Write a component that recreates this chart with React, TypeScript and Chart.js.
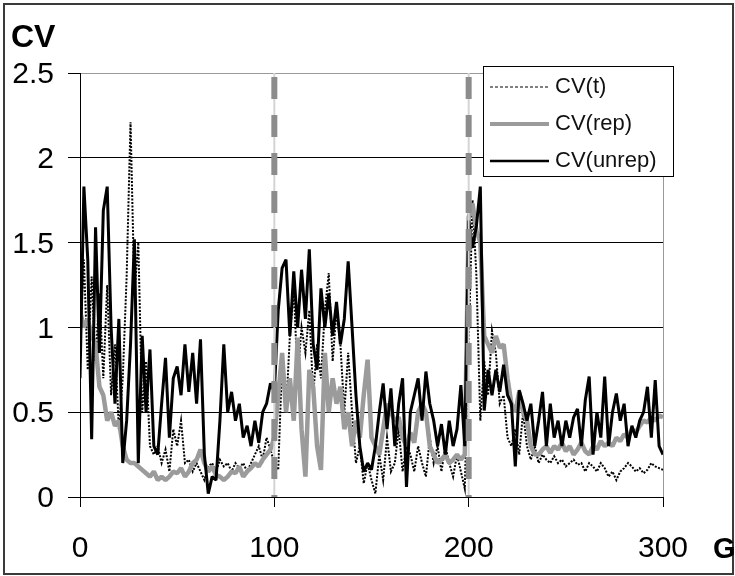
import React, { useEffect, useRef } from "react";
import { Chart, registerables } from "chart.js";

Chart.register(...registerables);

// Generation index (x), every 2 generations from 0 to 300
const generations: number[] = Array.from({ length: 151 }, (_, i) => i * 2);

// CV(t) — dotted black
const cvT: number[] = [
  0.9, 1.4, 0.75, 1.3, 0.8, 1.2, 0.7, 1.25, 0.6, 0.9,
  0.4, 0.7, 1.3, 2.21, 1.2, 1.5, 0.5, 0.8, 0.3, 0.25,
  0.3, 0.2, 0.28, 0.15, 0.4, 0.3, 0.45, 0.2, 0.22, 0.15,
  0.2, 0.15, 0.1, 0.18, 0.2, 0.15, 0.22, 0.18, 0.2, 0.15,
  0.2, 0.17, 0.2, 0.15, 0.2, 0.25, 0.3, 0.22, 0.35, 0.28,
  0.2, 0.16, 0.8, 0.5, 0.95, 1.22, 0.7, 1.0, 0.85, 1.1,
  0.6, 0.9, 0.7, 1.1, 1.32, 0.8, 1.1, 0.9, 0.5, 0.85,
  0.5, 0.2, 0.3, 0.08, 0.2, 0.1, 0.02, 0.25, 0.1, 0.35,
  0.15, 0.2, 0.4, 0.15, 0.3, 0.25, 0.15, 0.3, 0.2, 0.12,
  0.35, 0.2, 0.3, 0.15, 0.3, 0.2, 0.12, 0.25, 0.15, 0.05,
  0.9, 1.75, 1.3, 0.45, 0.8, 0.6, 0.98, 0.85, 0.55, 0.6,
  0.35, 0.3, 0.4, 0.25, 0.5, 0.3, 0.22, 0.3, 0.2, 0.25,
  0.22, 0.2, 0.24, 0.2, 0.22, 0.18, 0.2, 0.22, 0.19, 0.2,
  0.15, 0.2, 0.18, 0.15, 0.2, 0.17, 0.12, 0.15, 0.1, 0.15,
  0.17, 0.2, 0.18, 0.15, 0.17, 0.14, 0.16, 0.2, 0.18, 0.17,
  0.16,
];

// CV(rep) — thick grey
const cvRep: number[] = [
  1.1, 1.0, 1.05, 0.95, 0.9, 0.65, 0.6, 0.45, 0.5, 0.42,
  0.45, 0.3, 0.22, 0.2, 0.2, 0.18, 0.16, 0.14, 0.12, 0.15,
  0.1, 0.12, 0.1, 0.12, 0.15, 0.14, 0.17, 0.12, 0.15, 0.2,
  0.22, 0.28, 0.2, 0.15, 0.18, 0.13, 0.12, 0.1, 0.12, 0.15,
  0.14, 0.18, 0.12, 0.15, 0.17, 0.2, 0.18, 0.22, 0.25, 0.28,
  0.35, 0.6, 0.85, 0.5, 0.7, 0.45, 0.94, 0.4, 0.12, 0.75,
  0.65, 0.3, 0.16, 0.85, 0.5, 0.7, 0.55, 0.65, 0.4, 0.5,
  0.3, 0.45, 0.35, 0.6, 0.81, 0.35, 0.3, 0.25, 0.4, 0.55,
  0.5, 0.45, 0.47, 0.35, 0.3, 0.38, 0.32, 0.5, 0.55, 0.5,
  0.3, 0.25, 0.2, 0.22, 0.25, 0.2, 0.22, 0.25, 0.22, 0.25,
  1.65, 1.73, 1.57, 1.5, 0.95, 0.9, 0.85, 0.95, 0.88, 0.9,
  0.7, 0.55, 0.5, 0.62, 0.5, 0.45, 0.3, 0.25, 0.25, 0.28,
  0.3, 0.26, 0.3, 0.28, 0.32, 0.27, 0.3, 0.25, 0.28, 0.32,
  0.27, 0.25, 0.3, 0.28, 0.33, 0.3, 0.32, 0.3, 0.35, 0.33,
  0.37, 0.35, 0.4, 0.38, 0.42, 0.45, 0.44, 0.47, 0.45, 0.48,
  0.47,
];

// CV(unrep) — solid black
const cvUnrep: number[] = [
  0.7, 1.83, 1.4, 0.34, 1.59, 0.85, 1.69, 1.83, 1.0, 0.55,
  1.05, 0.2, 0.45, 0.9, 1.52, 0.2, 0.95, 0.5, 0.87, 0.3,
  0.25, 0.55, 0.82, 0.35, 0.7, 0.77, 0.6, 0.9, 0.62, 0.85,
  0.55, 0.93, 0.25, 0.02, 0.12, 0.1, 0.45, 0.9, 0.5, 0.62,
  0.45, 0.55, 0.35, 0.42, 0.3, 0.45, 0.32, 0.5, 0.55, 0.67,
  0.62, 1.1, 1.35, 1.4, 0.95, 1.33, 1.0, 1.34, 1.05, 1.46,
  0.9, 0.75, 1.23, 1.0, 1.2, 0.95, 1.15, 0.9, 1.05, 1.39,
  1.0, 0.6, 0.3, 0.15, 0.2, 0.16, 0.3, 0.5, 0.67, 0.4,
  0.64, 0.3, 0.55, 0.7, 0.06, 0.5, 0.6, 0.7, 0.45, 0.74,
  0.55, 0.45, 0.3, 0.43, 0.25, 0.45, 0.3, 0.4, 0.66, 0.3,
  1.63, 1.47, 1.6, 1.83, 0.51, 0.75, 0.6, 0.75, 0.62, 0.78,
  0.6, 0.55, 0.18, 0.63, 0.55, 0.45, 0.55, 0.3, 0.45, 0.62,
  0.3, 0.55, 0.35, 0.45, 0.3, 0.45, 0.35, 0.47, 0.52, 0.3,
  0.57, 0.71, 0.25, 0.5, 0.35, 0.71, 0.3, 0.5, 0.61, 0.45,
  0.55, 0.3, 0.42, 0.35, 0.45, 0.5, 0.65, 0.35, 0.69, 0.3,
  0.25,
];

// Vertical dashed marker generations
const markerGenerations: number[] = [100, 200];

const Y_MIN = 0;
const Y_MAX = 2.5;
const X_MIN = 0;
const X_MAX = 300;

const FONT = '"Liberation Sans", Arial, Helvetica, sans-serif';

const toPoints = (ys: number[]) => ys.map((y, i) => ({ x: generations[i], y }));

const decorPlugin = {
  id: "decor",
  afterDraw(chart: any) {
    const ctx: CanvasRenderingContext2D = chart.ctx;
    ctx.save();
    // outer border
    ctx.strokeStyle = "#3a3a3a";
    ctx.lineWidth = 2;
    ctx.strokeRect(4, 4, 729, 570);

    // axis titles
    ctx.fillStyle = "#000";
    ctx.textAlign = "left";
    ctx.textBaseline = "alphabetic";
    ctx.font = `bold 32px ${FONT}`;
    ctx.fillText("CV", 11, 47);
    ctx.font = `bold 29px ${FONT}`;
    ctx.fillText("G", 713, 558);

    // legend
    const bx = 483.5, by = 66.5, bw = 190, bh = 110;
    ctx.fillStyle = "#fff";
    ctx.fillRect(bx, by, bw, bh);
    ctx.strokeStyle = "#000";
    ctx.lineWidth = 1;
    ctx.strokeRect(bx, by, bw, bh);
    const items = chart.data.datasets.filter((d: any) => d.showInLegend);
    items.sort((a: any, b: any) => a.legendIndex - b.legendIndex);
    const rowsY = [87, 124, 161];
    items.forEach((d: any, i: number) => {
      const y = rowsY[i];
      ctx.save();
      ctx.strokeStyle = d.borderColor;
      ctx.lineWidth = d.legendWidth || d.borderWidth;
      ctx.setLineDash(d.legendDash || d.borderDash || []);
      ctx.beginPath();
      ctx.moveTo(490, y);
      ctx.lineTo(549, y);
      ctx.stroke();
      ctx.restore();
      ctx.fillStyle = "#111";
      ctx.font = `22px ${FONT}`;
      ctx.textBaseline = "middle";
      ctx.textAlign = "left";
      ctx.fillText(d.label, 555, y);
    });
    ctx.restore();
  },
};

export default function App() {
  const canvasRef = useRef<HTMLCanvasElement | null>(null);

  useEffect(() => {
    if (!canvasRef.current) return;
    const markerSets: any[] = [];
    markerGenerations.forEach((g) => {
      markerSets.push({
        label: `marker-light-${g}`,
        data: [
          { x: g, y: Y_MAX },
          { x: g, y: Y_MIN },
        ],
        borderColor: "#d4d4d4",
        borderWidth: 2,
        pointRadius: 0,
        order: -1,
      });
      markerSets.push({
        label: `marker-${g}`,
        data: [
          { x: g, y: Y_MAX },
          { x: g, y: Y_MIN },
        ],
        borderColor: "#8c8c8c",
        borderWidth: 6,
        borderDash: [22, 16],
        borderDashOffset: -4,
        borderCapStyle: "butt",
        pointRadius: 0,
        order: -2,
      });
    });

    const chart = new Chart(canvasRef.current, {
      type: "line",
      data: {
        datasets: [
          {
            label: "CV(unrep)",
            data: toPoints(cvUnrep),
            borderColor: "#000000",
            borderWidth: 3,
            pointRadius: 0,
            tension: 0,
            borderJoinStyle: "bevel",
            order: 1,
            showInLegend: true,
            legendIndex: 2,
            legendWidth: 2.5,
          } as any,
          {
            label: "CV(rep)",
            data: toPoints(cvRep),
            borderColor: "#9b9b9b",
            borderWidth: 4.5,
            pointRadius: 0,
            tension: 0,
            borderJoinStyle: "bevel",
            order: 2,
            showInLegend: true,
            legendIndex: 1,
            legendWidth: 4,
          } as any,
          {
            label: "CV(t)",
            data: toPoints(cvT),
            borderColor: "#000000",
            borderWidth: 2,
            borderDash: [2, 1.5],
            pointRadius: 0,
            tension: 0,
            order: 3,
            showInLegend: true,
            legendIndex: 0,
            legendWidth: 1.2,
            legendDash: [3, 2],
          } as any,
          ...markerSets,
        ],
      },
      options: {
        responsive: false,
        animation: false,
        events: [],
        layout: { padding: { left: 0, right: 72, top: 73, bottom: 0 } },
        plugins: {
          legend: { display: false },
          tooltip: { enabled: false },
          title: { display: false },
        },
        scales: {
          x: {
            type: "linear",
            min: X_MIN,
            max: X_MAX,
            afterFit: (s: any) => {
              s.height = 79;
            },
            ticks: {
              stepSize: 100,
              color: "#000",
              font: { family: FONT, size: 30 },
              padding: 24,
              maxRotation: 0,
              autoSkip: false,
            },
            grid: {
              drawOnChartArea: true,
              color: (c: any) => (c.tick && c.tick.value === X_MAX ? "#9a9a9a" : "rgba(0,0,0,0)"),
              tickColor: "#000",
              tickLength: 10,
              lineWidth: 1,
            },
            border: { display: true, color: "#000", width: 1 },
          },
          y: {
            type: "linear",
            min: Y_MIN,
            max: Y_MAX,
            afterFit: (s: any) => {
              s.width = 80;
            },
            ticks: {
              stepSize: 0.5,
              color: "#000",
              font: { family: FONT, size: 30 },
              padding: 14,
              labelOffset: 2,
              callback: (v: any) => String(v),
            },
            grid: {
              color: (c: any) => (c.tick && c.tick.value === Y_MAX ? "#9a9a9a" : "#000"),
              tickColor: "#000",
              tickLength: 12,
              lineWidth: 1,
            },
            border: { display: true, color: "#000", width: 1 },
          },
        },
      } as any,
      plugins: [decorPlugin],
    });
    return () => chart.destroy();
  }, []);

  return (
    <div style={{ position: "fixed", left: 0, top: 0, width: 735, height: 576, background: "#fff" }}>
      <canvas ref={canvasRef} width={735} height={576} style={{ display: "block" }} />
    </div>
  );
}
